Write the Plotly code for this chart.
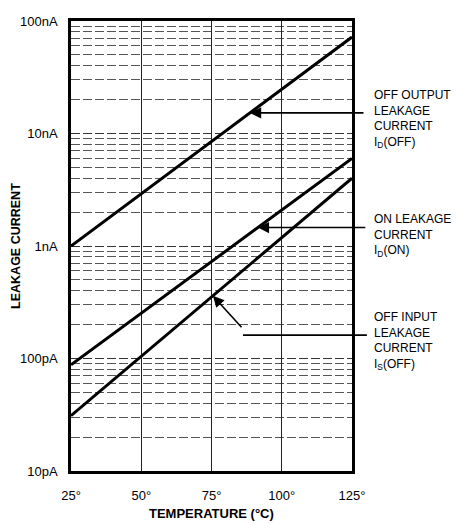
import numpy as np
import plotly.graph_objects as go

# ---- data ----
temps = [25, 125]                      # °C
off_output = [1.0e-9, 72e-9]           # I_D(OFF), A
on_leak = [88e-12, 6.0e-9]             # I_D(ON), A
off_input = [31e-12, 4.0e-9]           # I_S(OFF), A

x_ticks = [25, 50, 75, 100, 125]
x_labels = ["25°", "50°", "75°", "100°", "125°"]
y_ticks = [1e-11, 1e-10, 1e-9, 1e-8, 1e-7]
y_labels = ["10pA", "100pA", "1nA", "10nA", "100nA"]
minor_vals = [m * d for d in [1e-11, 1e-10, 1e-9, 1e-8] for m in range(2, 10)]

FONT = "Liberation Sans, Arial, sans-serif"


def log_at(series, t):
    """log10 of a series at temperature t (straight line on log axis)."""
    l0, l1 = np.log10(series[0]), np.log10(series[1])
    return l0 + (l1 - l0) * (t - temps[0]) / (temps[1] - temps[0])


fig = go.Figure()
for s in [off_output, on_leak, off_input]:
    fig.add_trace(go.Scatter(x=temps, y=s, mode="lines",
                             line=dict(color="black", width=3),
                             showlegend=False, hoverinfo="skip"))

arrow = dict(showarrow=True, arrowhead=2, arrowsize=1.4, arrowwidth=1.6,
             arrowcolor="black", axref="pixel", ayref="pixel",
             xref="x", yref="y", text="")
ann = []
t1 = 88.7
ann.append(dict(arrow, x=t1, y=log_at(off_output, t1), ax=115, ay=0))
t2 = 91.5
ann.append(dict(arrow, x=t2, y=log_at(on_leak, t2), ax=109, ay=0))
t3 = 75.5
ann.append(dict(arrow, x=t3, y=log_at(off_input, t3), ax=30, ay=33))

labels = [
    ("OFF OUTPUT<br>LEAKAGE<br>CURRENT<br>I<sub>D</sub>(OFF)", 0.783),
    ("ON LEAKAGE<br>CURRENT<br>I<sub>D</sub>(ON)", 0.523),
    ("OFF INPUT<br>LEAKAGE<br>CURRENT<br>I<sub>S</sub>(OFF)", 0.289),
]
for txt, yy in labels:
    ann.append(dict(x=1.072, y=yy, xref="paper", yref="paper",
                    xanchor="left", yanchor="middle", align="left",
                    showarrow=False, text=txt,
                    font=dict(family=FONT, size=12, color="black")))

ann.append(dict(x=-0.196, y=0.5, xref="paper", yref="paper",
                text="<b>LEAKAGE CURRENT</b>", textangle=-90, showarrow=False,
                xanchor="center", yanchor="middle",
                font=dict(family=FONT, size=12.5, color="black")))
ann.append(dict(x=0.5, y=-0.095, xref="paper", yref="paper",
                text="<b>TEMPERATURE (°C)</b>", showarrow=False,
                xanchor="center", yanchor="middle",
                font=dict(family=FONT, size=13, color="black")))

shapes = [dict(type="line", xref="paper", yref="paper",
               x0=0.612, x1=1.053, y0=0.302, y1=0.302,
               line=dict(color="black", width=1.6))]

# page body has an 8px margin, so the figure is 8px smaller and shifted
fig.update_layout(
    width=455, height=516,
    margin=dict(l=63, r=111, t=6, b=53),
    paper_bgcolor="white", plot_bgcolor="white",
    font=dict(family=FONT, size=13, color="black"),
    annotations=ann, shapes=shapes,
    xaxis=dict(range=[25, 125], tickvals=x_ticks, ticktext=x_labels,
               showgrid=True, gridcolor="#222", gridwidth=1,
               showline=True, linecolor="black", linewidth=2.5, mirror=True,
               ticks="", ticklabelstandoff=11, zeroline=False,
               tickfont=dict(size=13)),
    yaxis=dict(type="log", range=[-11, -7], tickvals=y_ticks, ticktext=y_labels,
               showgrid=True, gridcolor="#333", gridwidth=1, griddash="9px,3px",
               showline=True, linecolor="black", linewidth=2.5, mirror=True,
               ticks="", ticklabelstandoff=8, zeroline=False,
               tickfont=dict(size=13),
               minor=dict(tickvals=minor_vals, showgrid=True, gridcolor="#555",
                          gridwidth=1, griddash="9px,3px", ticks="")),
)

fig.write_html("out.html")
